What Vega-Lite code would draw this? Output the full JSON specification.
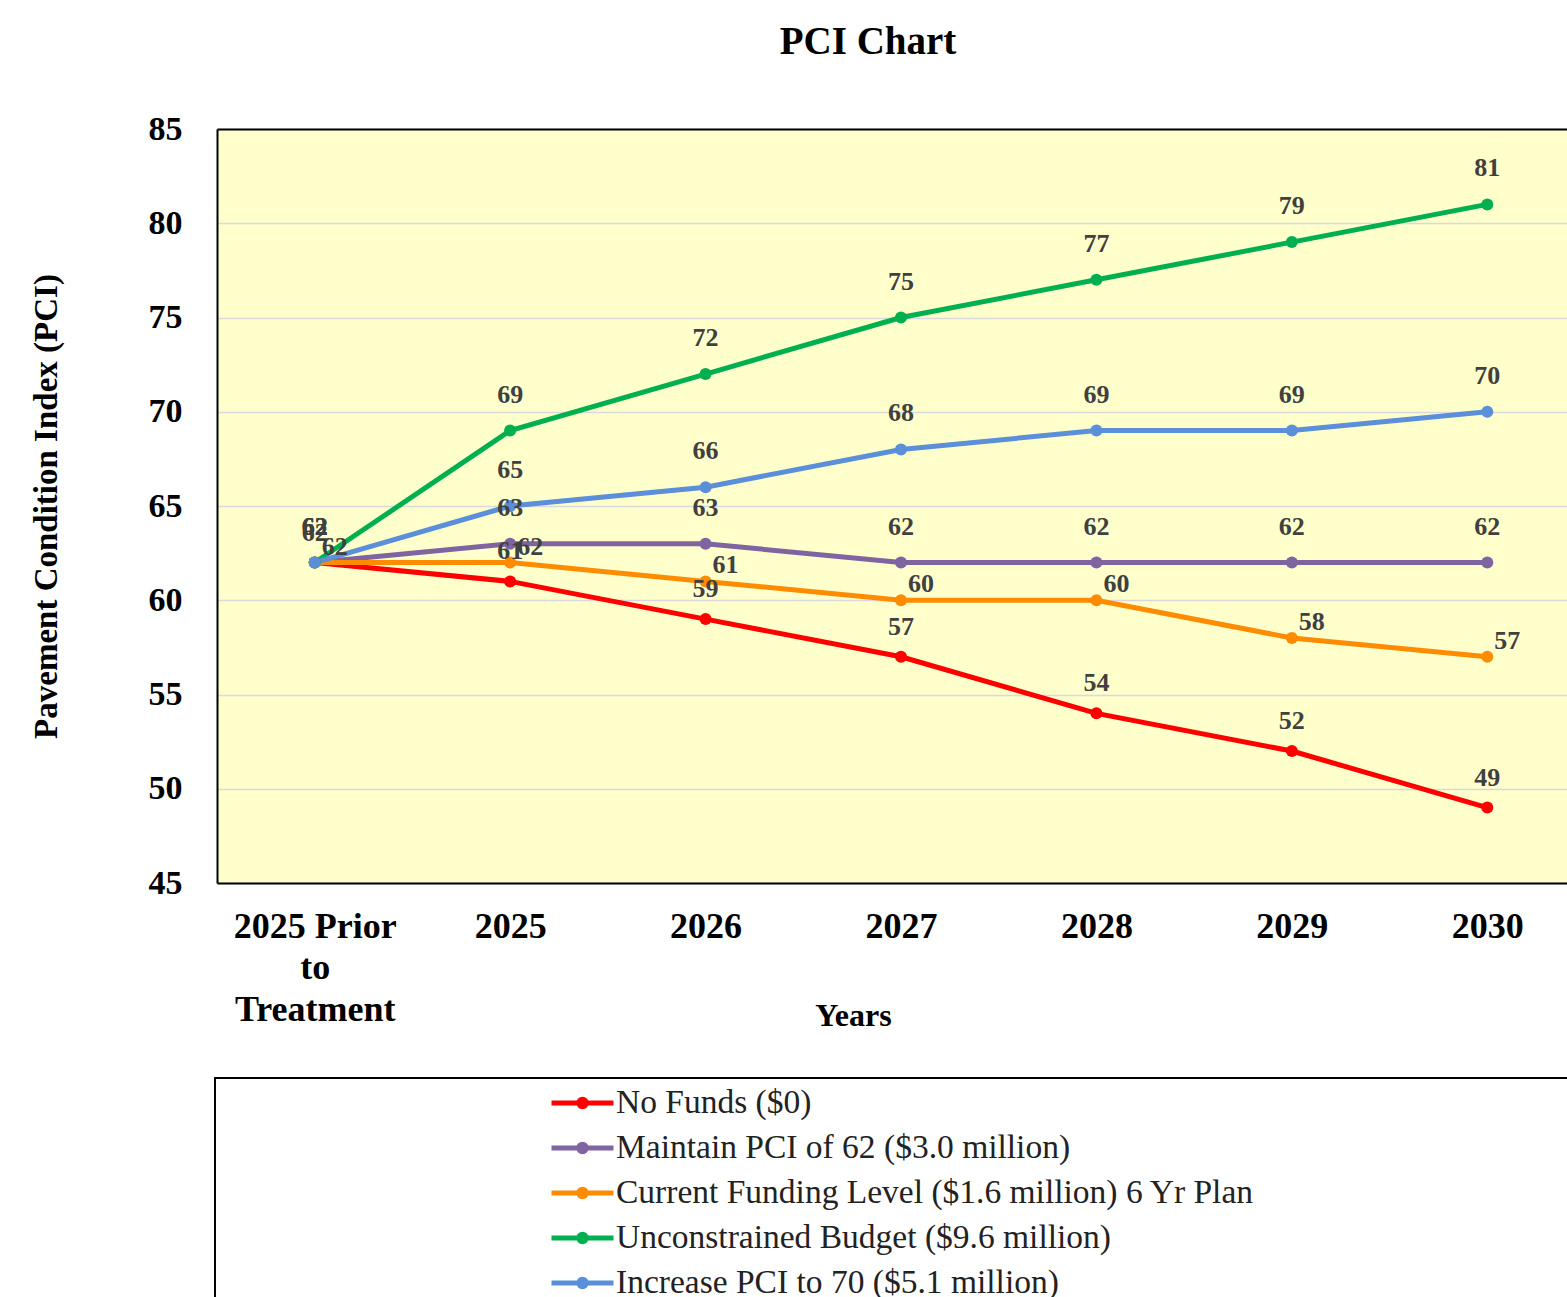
{
  "$schema": "https://vega.github.io/schema/vega-lite/v6.json",
  "autosize": {"type": "none"},
  "padding": {"left": 217, "top": 129, "right": -18, "bottom": 414},
  "width": 1368,
  "height": 754,
  "background": "white",
  "config": {
    "view": {"fill": "#FFFFCC", "stroke": null},
    "font": "Liberation Serif",
    "legend": {"strokeWidth": 2}
  },
  "title": {
    "text": "PCI Chart",
    "font": "Liberation Serif",
    "fontSize": 39,
    "fontWeight": "bold",
    "color": "black",
    "anchor": "middle",
    "offset": 50,
    "dx": -33
  },
  "data": {
    "values": [
      {"year": "2025 Prior to Treatment", "series": "No Funds ($0)", "pci": 62},
      {"year": "2025", "series": "No Funds ($0)", "pci": 61},
      {"year": "2026", "series": "No Funds ($0)", "pci": 59},
      {"year": "2027", "series": "No Funds ($0)", "pci": 57},
      {"year": "2028", "series": "No Funds ($0)", "pci": 54},
      {"year": "2029", "series": "No Funds ($0)", "pci": 52},
      {"year": "2030", "series": "No Funds ($0)", "pci": 49},
      {"year": "2025 Prior to Treatment", "series": "Maintain PCI of 62 ($3.0 million)", "pci": 62},
      {"year": "2025", "series": "Maintain PCI of 62 ($3.0 million)", "pci": 63},
      {"year": "2026", "series": "Maintain PCI of 62 ($3.0 million)", "pci": 63},
      {"year": "2027", "series": "Maintain PCI of 62 ($3.0 million)", "pci": 62},
      {"year": "2028", "series": "Maintain PCI of 62 ($3.0 million)", "pci": 62},
      {"year": "2029", "series": "Maintain PCI of 62 ($3.0 million)", "pci": 62},
      {"year": "2030", "series": "Maintain PCI of 62 ($3.0 million)", "pci": 62},
      {"year": "2025 Prior to Treatment", "series": "Current Funding Level ($1.6 million) 6 Yr Plan", "pci": 62},
      {"year": "2025", "series": "Current Funding Level ($1.6 million) 6 Yr Plan", "pci": 62},
      {"year": "2026", "series": "Current Funding Level ($1.6 million) 6 Yr Plan", "pci": 61},
      {"year": "2027", "series": "Current Funding Level ($1.6 million) 6 Yr Plan", "pci": 60},
      {"year": "2028", "series": "Current Funding Level ($1.6 million) 6 Yr Plan", "pci": 60},
      {"year": "2029", "series": "Current Funding Level ($1.6 million) 6 Yr Plan", "pci": 58},
      {"year": "2030", "series": "Current Funding Level ($1.6 million) 6 Yr Plan", "pci": 57},
      {"year": "2025 Prior to Treatment", "series": "Unconstrained Budget  ($9.6 million)", "pci": 62},
      {"year": "2025", "series": "Unconstrained Budget  ($9.6 million)", "pci": 69},
      {"year": "2026", "series": "Unconstrained Budget  ($9.6 million)", "pci": 72},
      {"year": "2027", "series": "Unconstrained Budget  ($9.6 million)", "pci": 75},
      {"year": "2028", "series": "Unconstrained Budget  ($9.6 million)", "pci": 77},
      {"year": "2029", "series": "Unconstrained Budget  ($9.6 million)", "pci": 79},
      {"year": "2030", "series": "Unconstrained Budget  ($9.6 million)", "pci": 81},
      {"year": "2025 Prior to Treatment", "series": "Increase PCI to 70 ($5.1 million)", "pci": 62},
      {"year": "2025", "series": "Increase PCI to 70 ($5.1 million)", "pci": 65},
      {"year": "2026", "series": "Increase PCI to 70 ($5.1 million)", "pci": 66},
      {"year": "2027", "series": "Increase PCI to 70 ($5.1 million)", "pci": 68},
      {"year": "2028", "series": "Increase PCI to 70 ($5.1 million)", "pci": 69},
      {"year": "2029", "series": "Increase PCI to 70 ($5.1 million)", "pci": 69},
      {"year": "2030", "series": "Increase PCI to 70 ($5.1 million)", "pci": 70}
    ]
  },
  "encoding": {
    "y": {
      "field": "pci",
      "type": "quantitative",
      "scale": {"domain": [45, 85], "nice": false, "zero": false},
      "axis": {
        "title": "Pavement Condition Index (PCI)",
        "titleFont": "Liberation Serif",
        "titleFontSize": 33,
        "titleFontWeight": "bold",
        "titleColor": "black",
        "titlePadding": 85,
        "values": [45, 50, 55, 60, 65, 70, 75, 80, 85],
        "labelFont": "Liberation Serif",
        "labelFontSize": 34,
        "labelFontWeight": "bold",
        "labelColor": "black",
        "labelPadding": 35,
        "ticks": false,
        "domainColor": "black",
        "domainWidth": 2,
        "gridColor": "#D8D8DE",
        "gridWidth": 1.5
      }
    }
  },
  "layer": [
    {
      "mark": {"type": "line", "strokeWidth": 5},
      "encoding": {
        "x": {
          "field": "year", "type": "ordinal", "sort": null,
          "scale": {"type": "point", "padding": 0.5},
          "axis": {
            "title": "Years",
            "titleFont": "Liberation Serif",
            "titleFontSize": 32,
            "titleFontWeight": "bold",
            "titleColor": "black",
            "titleX": 636,
            "titleY": 132,
            "titleBaseline": "middle",
            "labelAngle": 0,
            "labelFont": "Liberation Serif",
            "labelFontSize": 36,
            "labelFontWeight": "bold",
            "labelColor": "black",
            "labelPadding": 26,
            "labelLineHeight": 41.5,
            "labelLimit": 400,
            "labelBaseline": "top",
            "labelExpr": "datum.value == '2025 Prior to Treatment' ? ['2025 Prior', 'to', 'Treatment'] : datum.label",
            "ticks": false,
            "grid": false,
            "domainColor": "black",
            "domainWidth": 2
          }
        },
        "color": {
          "field": "series", "type": "nominal",
          "scale": {
            "domain": ["No Funds ($0)", "Maintain PCI of 62 ($3.0 million)", "Current Funding Level ($1.6 million) 6 Yr Plan", "Unconstrained Budget  ($9.6 million)", "Increase PCI to 70 ($5.1 million)"],
            "range": ["#FF0000", "#8064A2", "#FF8C00", "#00B050", "#5B8FD9"]
          },
          "legend": {
            "orient": "none",
            "legendX": -2,
            "legendY": 949,
            "title": " ",
            "titleOrient": "right",
            "titlePadding": 360,
            "strokeColor": "black",
            "fillColor": "white",
            "padding": 8,
            "clipHeight": 34,
            "symbolOffset": 326,
            "symbolType": "M-1,0L1,0M0.12,0A0.12,0.12,0,1,1,-0.12,0A0.12,0.12,0,1,1,0.12,0",
            "symbolSize": 3844,
            "symbolStrokeWidth": 5,
            "labelFont": "Liberation Serif",
            "labelFontSize": 33.5,
            "labelColor": "#222222",
            "labelOffset": 0,
            "labelLimit": 1000,
            "rowPadding": 11
          }
        }
      }
    },
    {
      "mark": {"type": "circle", "size": 145, "opacity": 1},
      "encoding": {
        "x": {
          "field": "year", "type": "ordinal", "sort": null,
          "scale": {"type": "point", "padding": 0.5},
          "axis": {"orient": "top", "labels": false, "ticks": false, "title": null, "grid": false, "domainColor": "black", "domainWidth": 2}
        },
        "color": {"field": "series", "type": "nominal"}
      }
    },
    {
      "transform": [{"filter": "datum.series == 'No Funds ($0)'"}],
      "mark": {"type": "text", "dy": -30, "fontSize": 26, "fontWeight": "bold", "color": "#404040", "font": "Liberation Serif"},
      "encoding": {
        "x": {"field": "year", "type": "ordinal", "sort": null, "axis": null},
        "text": {"field": "pci", "type": "quantitative"}
      }
    },
    {
      "transform": [{"filter": "datum.series == 'Current Funding Level ($1.6 million) 6 Yr Plan'"}],
      "mark": {"type": "text", "dx": 20, "dy": -16, "fontSize": 26, "fontWeight": "bold", "color": "#404040", "font": "Liberation Serif"},
      "encoding": {
        "x": {"field": "year", "type": "ordinal", "sort": null, "axis": null},
        "text": {"field": "pci", "type": "quantitative"}
      }
    },
    {
      "transform": [{"filter": "datum.series != 'No Funds ($0)' && datum.series != 'Current Funding Level ($1.6 million) 6 Yr Plan'"}],
      "mark": {"type": "text", "dy": -36, "fontSize": 26, "fontWeight": "bold", "color": "#404040", "font": "Liberation Serif"},
      "encoding": {
        "x": {"field": "year", "type": "ordinal", "sort": null, "axis": null},
        "text": {"field": "pci", "type": "quantitative"}
      }
    }
  ],
  "resolve": {"axis": {"x": "independent"}}
}
